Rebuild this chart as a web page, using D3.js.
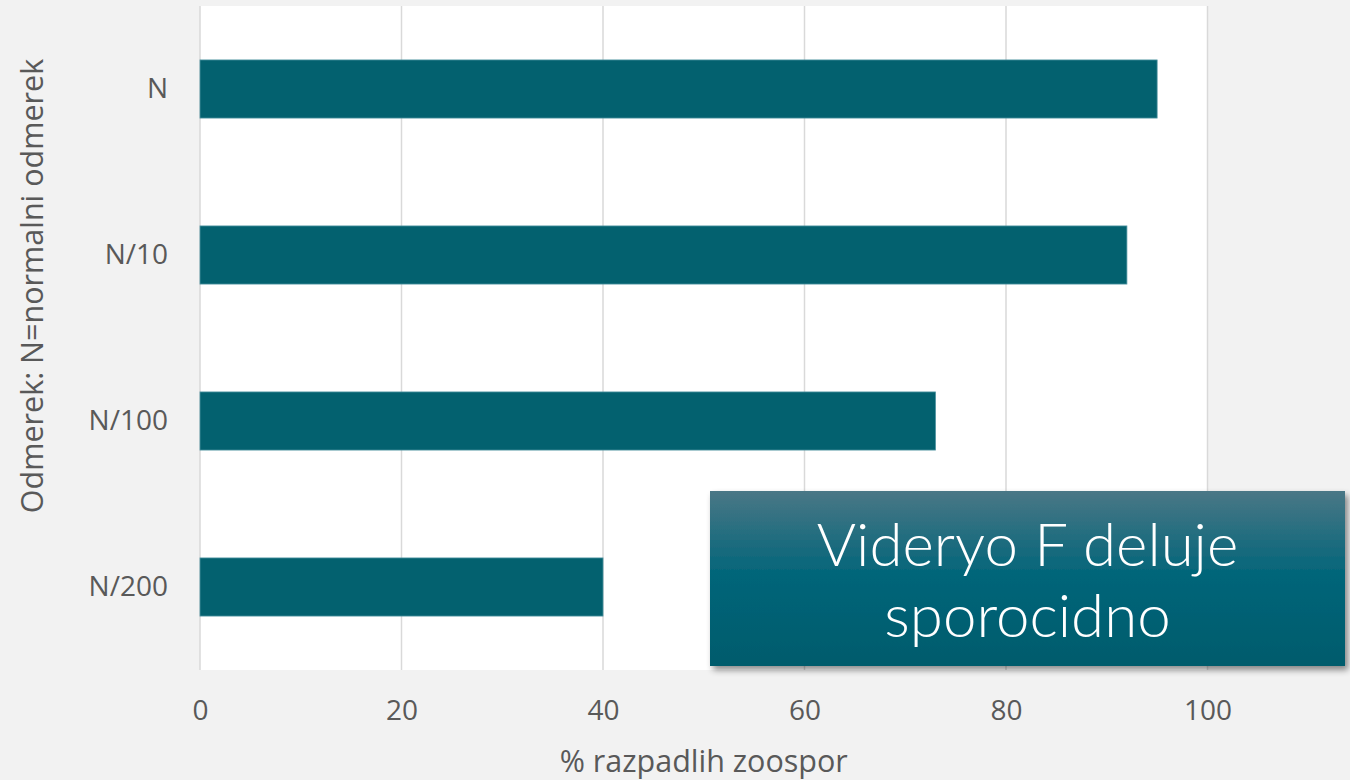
<!DOCTYPE html>
<html><head><meta charset="utf-8">
<script src="https://cdn.jsdelivr.net/npm/d3@7"></script>
<style>body{margin:0;background:#f2f2f2;}svg{display:block;}</style>
</head><body>
<script>
const categories = ["N", "N/10", "N/100", "N/200"];
const values = [95, 92, 73, 40];
const xTicks = [0, 20, 40, 60, 80, 100];
const xTitle = "% razpadlih zoospor";
const yTitle = "Odmerek: N=normalni odmerek";
const boxLines = ["Videryo F deluje", "sporocidno"];

const W = 1350, H = 780;
const font = "'Open Sans', sans-serif";
const boxFont = "Lato, 'Open Sans', sans-serif";
const svg = d3.select("body").append("svg").attr("width", W).attr("height", H);
svg.append("rect").attr("width", W).attr("height", H).attr("fill", "#f2f2f2");

const x = d3.scaleLinear().domain([0, 100]).range([200, 1207.5]);
const y = d3.scaleBand().domain(categories).range([6, 670]).paddingInner(0.65).paddingOuter(0.325);

svg.append("rect").attr("x", x(0)).attr("y", 6).attr("width", x(100) - x(0)).attr("height", 664).attr("fill", "#ffffff");

svg.append("g").selectAll("line").data(xTicks).join("line")
  .attr("x1", d => x(d)).attr("x2", d => x(d)).attr("y1", 6).attr("y2", 670)
  .attr("stroke", "#d9d9d9").attr("stroke-width", 1.5);

svg.append("g").selectAll("rect").data(categories).join("rect")
  .attr("x", x(0)).attr("y", d => y(d))
  .attr("width", (d, i) => x(values[i]) - x(0)).attr("height", y.bandwidth())
  .attr("fill", "#03616f").attr("stroke", "#4e93a1").attr("stroke-width", 0.8);

// x axis
const xAxis = svg.append("g").attr("transform", "translate(0,670)")
  .call(d3.axisBottom(x).tickValues(xTicks).tickSize(0).tickPadding(30));
xAxis.select(".domain").remove();
xAxis.selectAll("text").attr("font-family", font).attr("font-size", 28).attr("fill", "#595959");

// y axis
const yAxis = svg.append("g").attr("transform", `translate(${x(0)},0)`)
  .call(d3.axisLeft(y).tickSize(0).tickPadding(32));
yAxis.select(".domain").remove();
yAxis.selectAll("text").attr("font-family", font).attr("font-size", 28).attr("fill", "#595959");

svg.append("text").attr("x", (x(0) + x(100)) / 2).attr("y", 772)
  .attr("text-anchor", "middle").attr("font-family", font).attr("font-size", 30.5).attr("fill", "#595959").text(xTitle);

svg.append("text").attr("transform", "translate(43,286) rotate(-90)")
  .attr("text-anchor", "middle").attr("font-family", font).attr("font-size", 30.5).attr("fill", "#595959").text(yTitle);

// text box
const defs = svg.append("defs");
const grad = defs.append("linearGradient").attr("id", "bg").attr("x1", 0).attr("y1", 0).attr("x2", 0).attr("y2", 1);
grad.append("stop").attr("offset", "0%").attr("stop-color", "#4a7786");
grad.append("stop").attr("offset", "45%").attr("stop-color", "#06667a");
grad.append("stop").attr("offset", "100%").attr("stop-color", "#045b6c");
const f = defs.append("filter").attr("id", "sh").attr("x", "-5%").attr("y", "-10%").attr("width", "115%").attr("height", "130%");
f.append("feDropShadow").attr("dx", 3).attr("dy", 4).attr("stdDeviation", 3).attr("flood-color", "#000").attr("flood-opacity", 0.45);

const bx = 710, by = 491, bw = 635, bh = 175;
svg.append("rect").attr("x", bx).attr("y", by).attr("width", bw).attr("height", bh)
  .attr("fill", "url(#bg)").attr("filter", "url(#sh)");
svg.append("g").selectAll("text").data(boxLines).join("text")
  .attr("x", bx + bw / 2).attr("y", (d, i) => 566 + i * 71)
  .attr("text-anchor", "middle").attr("font-family", boxFont).attr("font-weight", 300)
  .attr("font-size", 60).attr("fill", "#ffffff").text(d => d);
</script>
</body></html>
